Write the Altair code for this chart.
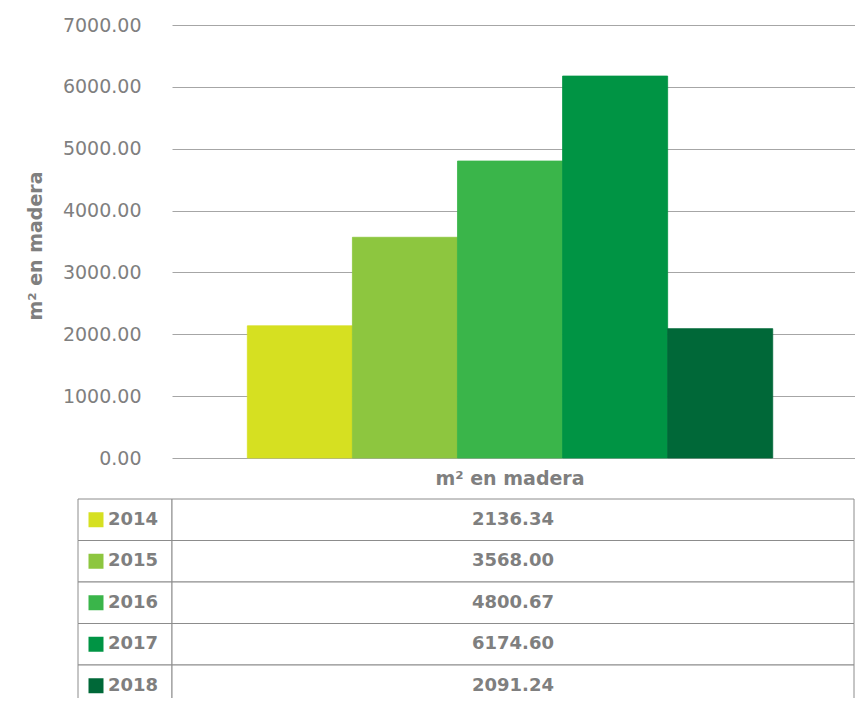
import altair as alt
import pandas as pd

years = ["2014", "2015", "2016", "2017", "2018"]
values = [2136.34, 3568.00, 4800.67, 6174.60, 2091.24]
colors = ["#d6e021", "#8dc63f", "#3ab54a", "#009444", "#006838"]
category = "m² en madera"
y_title = "m² en madera"
y_ticks = [0, 1000, 2000, 3000, 4000, 5000, 6000, 7000]

df = pd.DataFrame({"year": years, "value": values, "cat": [category] * len(years)})
cat_df = pd.DataFrame({"cat": [category]})

FONT = "DejaVu Sans"
GREY = "#7f7f7f"
LINE = "#8c8c8c"

PLOT_H = 433
TABLE_TOP = 474
ROW_H = 41.5

year_scale = alt.Scale(type="band", domain=years,
                       range=[TABLE_TOP, TABLE_TOP + ROW_H * len(years)],
                       paddingInner=0, paddingOuter=0)
color_scale = alt.Scale(domain=years, range=colors)

bars = alt.Chart(df).mark_bar(strokeWidth=0.8).encode(
    x=alt.X("cat:N", scale=alt.Scale(paddingOuter=0.15, paddingInner=0, align=0.478), axis=None),
    xOffset=alt.XOffset("year:N", scale=alt.Scale(paddingInner=0, paddingOuter=0)),
    y=alt.Y("value:Q",
            scale=alt.Scale(domain=[0, 7000], range=[PLOT_H, 0], nice=False),
            axis=alt.Axis(values=y_ticks, format=".2f", title=y_title,
                          ticks=False, domain=False, grid=True,
                          gridColor="#a6a6a6", gridWidth=1,
                          labelFont=FONT, labelFontSize=19, labelColor=GREY,
                          labelPadding=31,
                          titleFont=FONT, titleFontSize=19, titleFontWeight="bold",
                          titleColor=GREY, titleX=-137, titleY=PLOT_H / 2 + 4,
                          titleAngle=270, titleAlign="center", titleBaseline="middle")),
    color=alt.Color("year:N", scale=color_scale, legend=None),
    stroke=alt.Stroke("year:N", scale=alt.Scale(domain=years, range=colors), legend=None),
)

cat_label = alt.Chart(cat_df).mark_text(
    font=FONT, fontSize=19, fontWeight="bold", color=GREY, baseline="middle"
).encode(
    x=alt.X("cat:N", axis=None),
    y=alt.value(PLOT_H + 21),
    text="cat:N",
)

label_cells = alt.Chart(df).mark_rect(fill="white", stroke=LINE, strokeWidth=1).encode(
    x=alt.value(-94), x2=alt.value(0),
    y=alt.Y("year:N", scale=year_scale, axis=None),
)
value_cells = alt.Chart(df).mark_rect(fill="white", stroke=LINE, strokeWidth=1).encode(
    x=alt.value(0), x2=alt.value(682),
    y=alt.Y("year:N", scale=year_scale, axis=None),
)
swatches = alt.Chart(df).mark_square(size=225, opacity=1).encode(
    x=alt.value(-76),
    y=alt.Y("year:N", scale=year_scale, axis=None),
    color=alt.Color("year:N", scale=color_scale, legend=None),
)
year_text = alt.Chart(df).mark_text(
    font=FONT, fontSize=18, fontWeight="bold", color=GREY, align="left", baseline="middle"
).encode(
    x=alt.value(-64),
    y=alt.Y("year:N", scale=year_scale, axis=None),
    text="year:N",
)
value_text = alt.Chart(df).mark_text(
    font=FONT, fontSize=18, fontWeight="bold", color=GREY, align="center", baseline="middle"
).encode(
    x=alt.value(341),
    y=alt.Y("year:N", scale=year_scale, axis=None),
    text=alt.Text("value:Q", format=".2f"),
)

chart = alt.layer(
    bars, cat_label, label_cells, value_cells, swatches, year_text, value_text
).resolve_scale(y="independent").properties(
    width=683, height=673,
    background="white",
    autosize=alt.AutoSizeParams(type="none"),
    padding={"left": 164, "top": 17, "right": 0, "bottom": 0},
).configure_view(stroke=None, strokeWidth=0).configure_axis(
    domain=False, ticks=False
)

chart.save("out.html", embed_options={"renderer": "svg", "actions": False})
